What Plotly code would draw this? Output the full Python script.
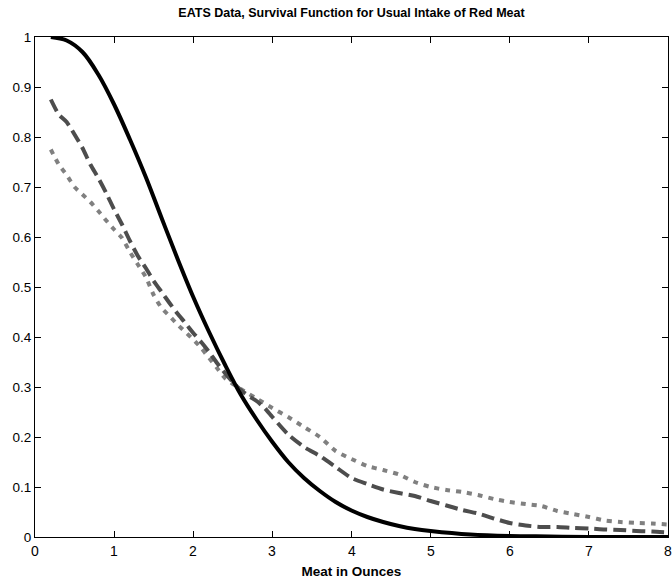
import plotly.graph_objects as go

# Solid: parametric estimate
solid_x = [0.2, 0.4, 0.6, 0.8, 1.0, 1.2, 1.4, 1.6, 1.8, 2.0, 2.2, 2.4, 2.6, 2.8, 3.0,
           3.2, 3.4, 3.6, 3.8, 4.0, 4.2, 4.4, 4.6, 4.8, 5.0, 5.5, 6.0, 6.5, 7.0, 8.0]
solid_y = [1.0, 0.993, 0.97, 0.925, 0.865, 0.795, 0.72, 0.638, 0.557, 0.48, 0.41, 0.345,
           0.285, 0.235, 0.19, 0.15, 0.118, 0.092, 0.07, 0.053, 0.04, 0.03, 0.022, 0.016,
           0.012, 0.005, 0.002, 0.001, 0.0, 0.0]

# Dashed
dash_x = [0.2, 0.3, 0.4, 0.5, 0.6, 0.7, 0.8, 0.9, 1.0, 1.1, 1.2, 1.3, 1.4, 1.5, 1.6, 1.7,
          1.8, 1.9, 2.0, 2.1, 2.2, 2.3, 2.4, 2.5, 2.6, 2.7, 2.8, 2.9, 3.0, 3.2, 3.4, 3.6,
          3.8, 4.0, 4.2, 4.4, 4.6, 4.8, 5.0, 5.2, 5.4, 5.6, 5.8, 6.0, 6.2, 6.4, 6.6, 6.8,
          7.0, 7.2, 7.4, 7.6, 7.8, 8.0]
dash_y = [0.875, 0.845, 0.83, 0.805, 0.778, 0.745, 0.718, 0.688, 0.655, 0.625, 0.592,
          0.562, 0.538, 0.512, 0.49, 0.468, 0.447, 0.428, 0.408, 0.39, 0.37, 0.348, 0.328,
          0.31, 0.294, 0.282, 0.272, 0.258, 0.24, 0.205, 0.18, 0.162, 0.14, 0.118, 0.106,
          0.095, 0.088, 0.082, 0.072, 0.063, 0.054, 0.047, 0.037, 0.028, 0.023, 0.02, 0.02,
          0.018, 0.017, 0.015, 0.014, 0.012, 0.011, 0.009]

# Dotted
dot_x = [0.2, 0.3, 0.4, 0.5, 0.6, 0.7, 0.8, 0.9, 1.0, 1.1, 1.2, 1.3, 1.4, 1.5, 1.6, 1.7,
         1.8, 1.9, 2.0, 2.1, 2.2, 2.3, 2.4, 2.6, 2.8, 3.0, 3.2, 3.4, 3.6, 3.8, 4.0, 4.2,
         4.4, 4.6, 4.8, 5.0, 5.2, 5.4, 5.6, 5.8, 6.0, 6.2, 6.4, 6.6, 6.8, 7.0, 7.2, 7.4,
         7.6, 7.8, 8.0]
dot_y = [0.775, 0.745, 0.724, 0.70, 0.685, 0.67, 0.652, 0.633, 0.615, 0.598, 0.57, 0.545,
         0.52, 0.484, 0.458, 0.442, 0.425, 0.41, 0.395, 0.378, 0.358, 0.338, 0.318, 0.296,
         0.277, 0.258, 0.24, 0.22, 0.2, 0.172, 0.156, 0.142, 0.134, 0.125, 0.11, 0.1,
         0.094, 0.09, 0.084, 0.076, 0.07, 0.066, 0.062, 0.052, 0.046, 0.04, 0.033, 0.03,
         0.028, 0.027, 0.025]

x_ticks = [0, 1, 2, 3, 4, 5, 6, 7, 8]
y_ticks = [0, 0.1, 0.2, 0.3, 0.4, 0.5, 0.6, 0.7, 0.8, 0.9, 1]
y_tick_labels = ["0", "0.1", "0.2", "0.3", "0.4", "0.5", "0.6", "0.7", "0.8", "0.9", "1"]

fig = go.Figure()
fig.add_trace(go.Scatter(x=dot_x, y=dot_y, mode="lines",
                         line=dict(color="#808080", width=4, dash="5px,6px",
                                   shape="spline", smoothing=0.6)))
fig.add_trace(go.Scatter(x=dash_x, y=dash_y, mode="lines",
                         line=dict(color="#4d4d4d", width=4, dash="13px,6px",
                                   shape="spline", smoothing=0.6)))
fig.add_trace(go.Scatter(x=solid_x, y=solid_y, mode="lines",
                         line=dict(color="black", width=4, shape="spline", smoothing=1)))

font = "Liberation Sans, Arial, Helvetica, sans-serif"
fig.update_layout(
    width=672, height=582,
    margin=dict(l=35, r=4, t=37, b=45),
    paper_bgcolor="white", plot_bgcolor="white",
    showlegend=False,
    font=dict(family=font, size=13, color="black"),
    title=dict(text="<b>EATS Data, Survival Function for Usual Intake of Red Meat</b>",
               x=0.5, xref="paper", xanchor="center", y=1 - 13 / 582, yanchor="middle",
               font=dict(size=12.5, family=font)),
)
# x tick labels drawn as annotations so the last one ("8") is not dropped at the edge
for v in x_ticks:
    fig.add_annotation(x=v, y=0, xref="x", yref="paper", text=str(v), showarrow=False,
                       yanchor="top", yshift=-4, font=dict(size=14, family=font))
fig.update_xaxes(range=[0, 8], tickvals=x_ticks, showticklabels=False,
                 showgrid=False, zeroline=False, showline=True, linecolor="black",
                 linewidth=1, mirror="ticks", ticks="inside", ticklen=6,
                 tickcolor="black",
                 title=dict(text="<b>Meat in Ounces</b>", font=dict(size=13.5), standoff=29))
fig.update_yaxes(range=[0, 1], tickvals=y_ticks, ticktext=y_tick_labels,
                 showgrid=False, zeroline=False, showline=True, linecolor="black",
                 linewidth=1, mirror="ticks", ticks="inside", ticklen=6,
                 tickcolor="black", tickfont=dict(size=13.5))

fig.write_html("out.html")
